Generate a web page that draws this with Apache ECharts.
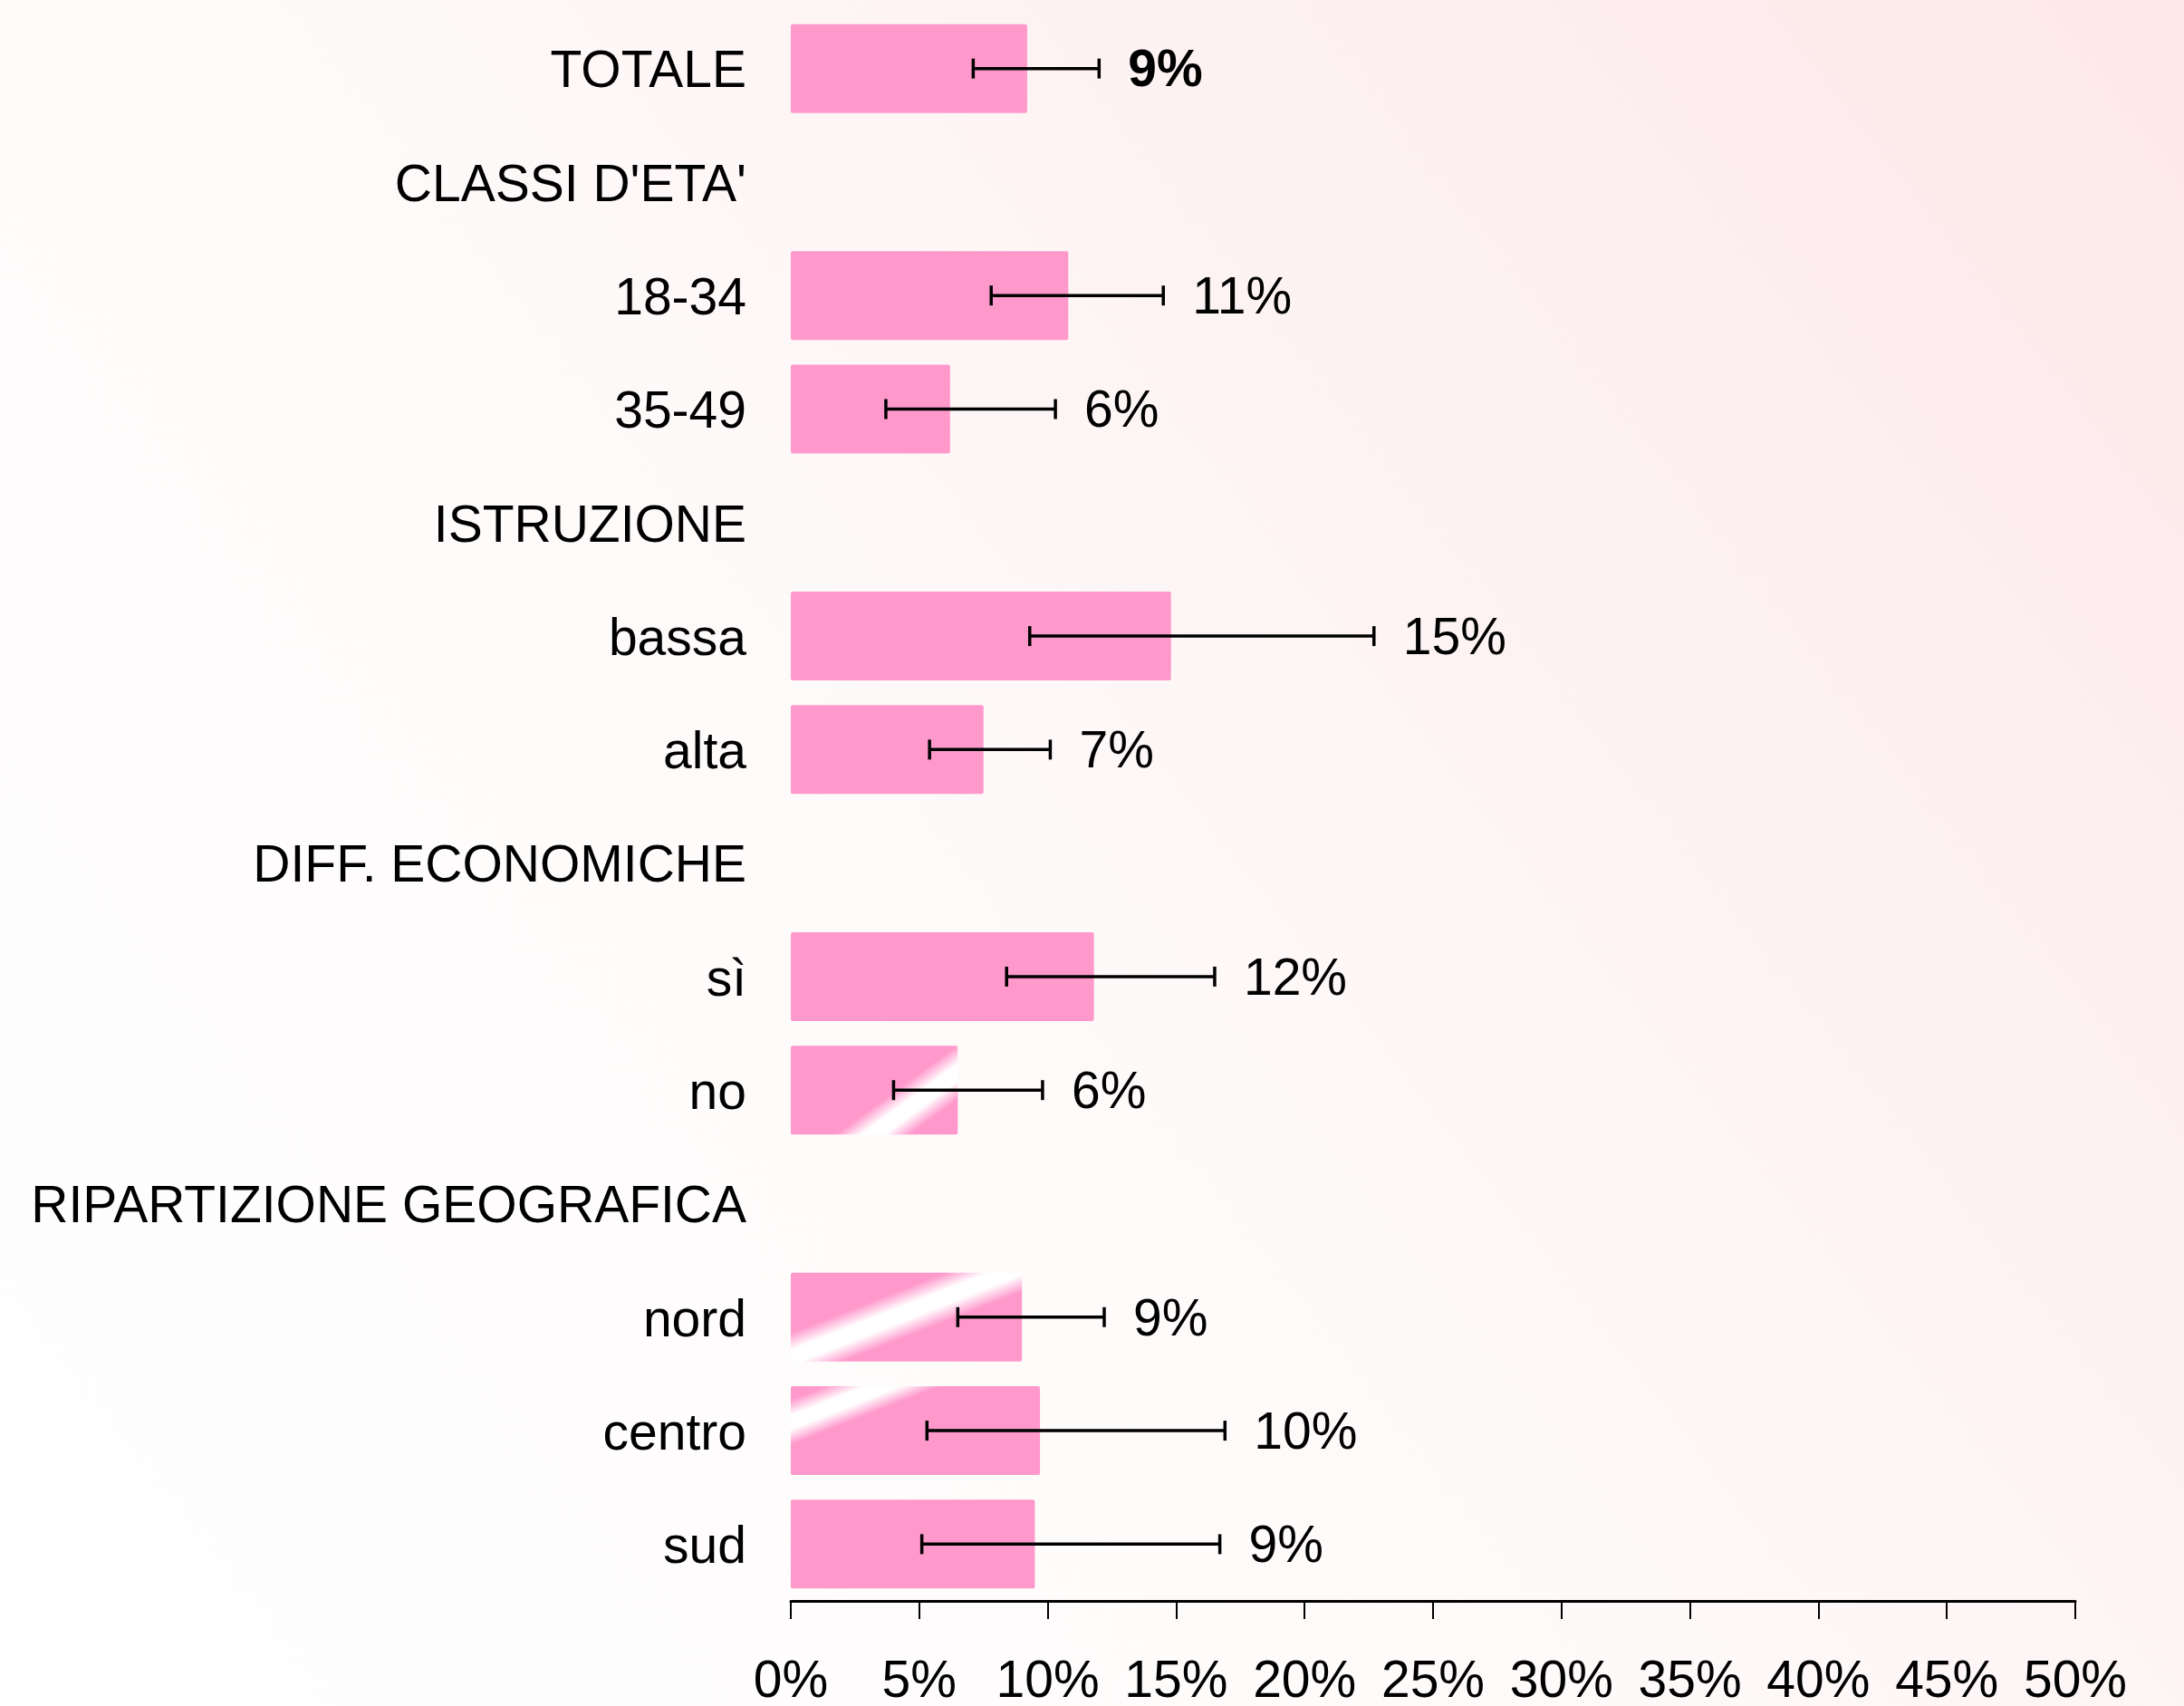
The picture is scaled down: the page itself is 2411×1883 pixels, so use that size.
<!DOCTYPE html>
<html>
<head>
<meta charset="utf-8">
<title>chart</title>
<script src="https://cdn.jsdelivr.net/npm/echarts@6/dist/echarts.min.js"></script>
<style>
  html, body { margin: 0; padding: 0; }
  #main { width: 2411px; height: 1883px; }
</style>
</head>
<body>
<div id="main"></div>
<script>
// righe del grafico (dall'alto in basso)
var categories = ['TOTALE', "CLASSI D'ETA'", '18-34', '35-49', 'ISTRUZIONE', 'bassa', 'alta',
  'DIFF. ECONOMICHE', 'sì', 'no', 'RIPARTIZIONE GEOGRAFICA', 'nord', 'centro', 'sud'];
// valori %, '-' = riga di intestazione senza barra
var values = [9.2, '-', 10.8, 6.2, '-', 14.8, 7.5, '-', 11.8, 6.5, '-', 9.0, 9.7, 9.5];
// intervallo di confidenza
var lower = [7.1, '-', 7.8, 3.7, '-', 9.3, 5.4, '-', 8.4, 4.0, '-', 6.5, 5.3, 5.1];
var upper = [12.0, '-', 14.5, 10.3, '-', 22.7, 10.1, '-', 16.5, 9.8, '-', 12.2, 16.9, 16.7];
var valueLabels = ['9%', '', '11%', '6%', '', '15%', '7%', '', '12%', '6%', '', '9%', '10%', '9%'];
var xTicks = [0, 5, 10, 15, 20, 25, 30, 35, 40, 45, 50];

var PINK = '#ff99cc';
var FONT = "'Liberation Sans', Arial, sans-serif";

var chart = echarts.init(document.getElementById('main'));

// riflesso bianco su alcune barre (come nell'originale)
function gloss(x, y, x2, y2, w) {
  return new echarts.graphic.LinearGradient(x, y, x2, y2, [
    { offset: 0, color: PINK },
    { offset: 0.5 - w, color: PINK },
    { offset: 0.5 - w * 0.3, color: '#ffffff' },
    { offset: 0.5 + w * 0.3, color: '#ffffff' },
    { offset: 0.5 + w, color: PINK },
    { offset: 1, color: PINK }
  ]);
}
var glossByName = {
  'no': gloss(0.55, 0.15, 0.94, 1.15, 0.2),
  'nord': gloss(0.372, 0, 0.522, 1, 0.24),
  'centro': gloss(0.10, -0.28, 0.24, 0.72, 0.22)
};

var barData = values.map(function (v, i) {
  var item = { value: v };
  if (glossByName[categories[i]]) {
    item.itemStyle = { color: glossByName[categories[i]] };
  }
  return item;
});

var errData = [];
for (var i = 0; i < categories.length; i++) {
  if (lower[i] === '-') continue;
  errData.push([i, lower[i], upper[i]]);
}

var option = {
  backgroundColor: new echarts.graphic.LinearGradient(0, 1, 1, 0, [
    { offset: 0, color: '#ffffff' },
    { offset: 0.45, color: '#fefafa' },
    { offset: 1, color: '#fde8e9' }
  ]),
  animation: false,
  grid: { left: 873, right: 120, top: 13, bottom: 116, containLabel: false, outerBoundsMode: 'none' },
  xAxis: {
    type: 'value',
    min: xTicks[0],
    max: xTicks[xTicks.length - 1],
    interval: 5,
    axisLine: { show: true, lineStyle: { color: '#000', width: 3 } },
    axisTick: { show: true, length: 20, lineStyle: { color: '#000', width: 2 } },
    splitLine: { show: false },
    axisLabel: {
      formatter: '{value}%',
      margin: 62,
      color: '#000',
      fontSize: 57,
      fontFamily: FONT
    }
  },
  yAxis: {
    type: 'category',
    inverse: true,
    data: categories,
    axisLine: { show: false },
    axisTick: { show: false },
    axisLabel: {
      margin: 49,
      formatter: function (v) { return '{t|' + v + '}'; },
      rich: {
        t: {
          color: '#000',
          fontSize: 57,
          fontFamily: FONT,
          padding: [10, 0, 0, 0]
        }
      }
    }
  },
  series: [
    {
      type: 'bar',
      data: barData,
      barWidth: 98,
      itemStyle: { color: PINK, borderRadius: 2 }
    },
    {
      type: 'custom',
      data: errData,
      z: 10,
      renderItem: function (params, api) {
        var idx = api.value(0);
        var p1 = api.coord([api.value(1), idx]);
        var p2 = api.coord([api.value(2), idx]);
        var cap = 11;
        var st = { stroke: '#000', lineWidth: 3.5 };
        return {
          type: 'group',
          children: [
            { type: 'line', shape: { x1: p1[0], y1: p1[1], x2: p2[0], y2: p2[1] }, style: st },
            { type: 'line', shape: { x1: p1[0], y1: p1[1] - cap, x2: p1[0], y2: p1[1] + cap }, style: st },
            { type: 'line', shape: { x1: p2[0], y1: p2[1] - cap, x2: p2[0], y2: p2[1] + cap }, style: st },
            {
              type: 'text',
              x: p2[0] + 32,
              y: p2[1] + 4,
              style: {
                text: valueLabels[idx],
                fill: '#000',
                font: (idx === 0 ? 'bold ' : '') + '57px ' + FONT,
                align: 'left',
                verticalAlign: 'middle'
              }
            }
          ]
        };
      }
    }
  ]
};

chart.setOption(option);
</script>
</body>
</html>
